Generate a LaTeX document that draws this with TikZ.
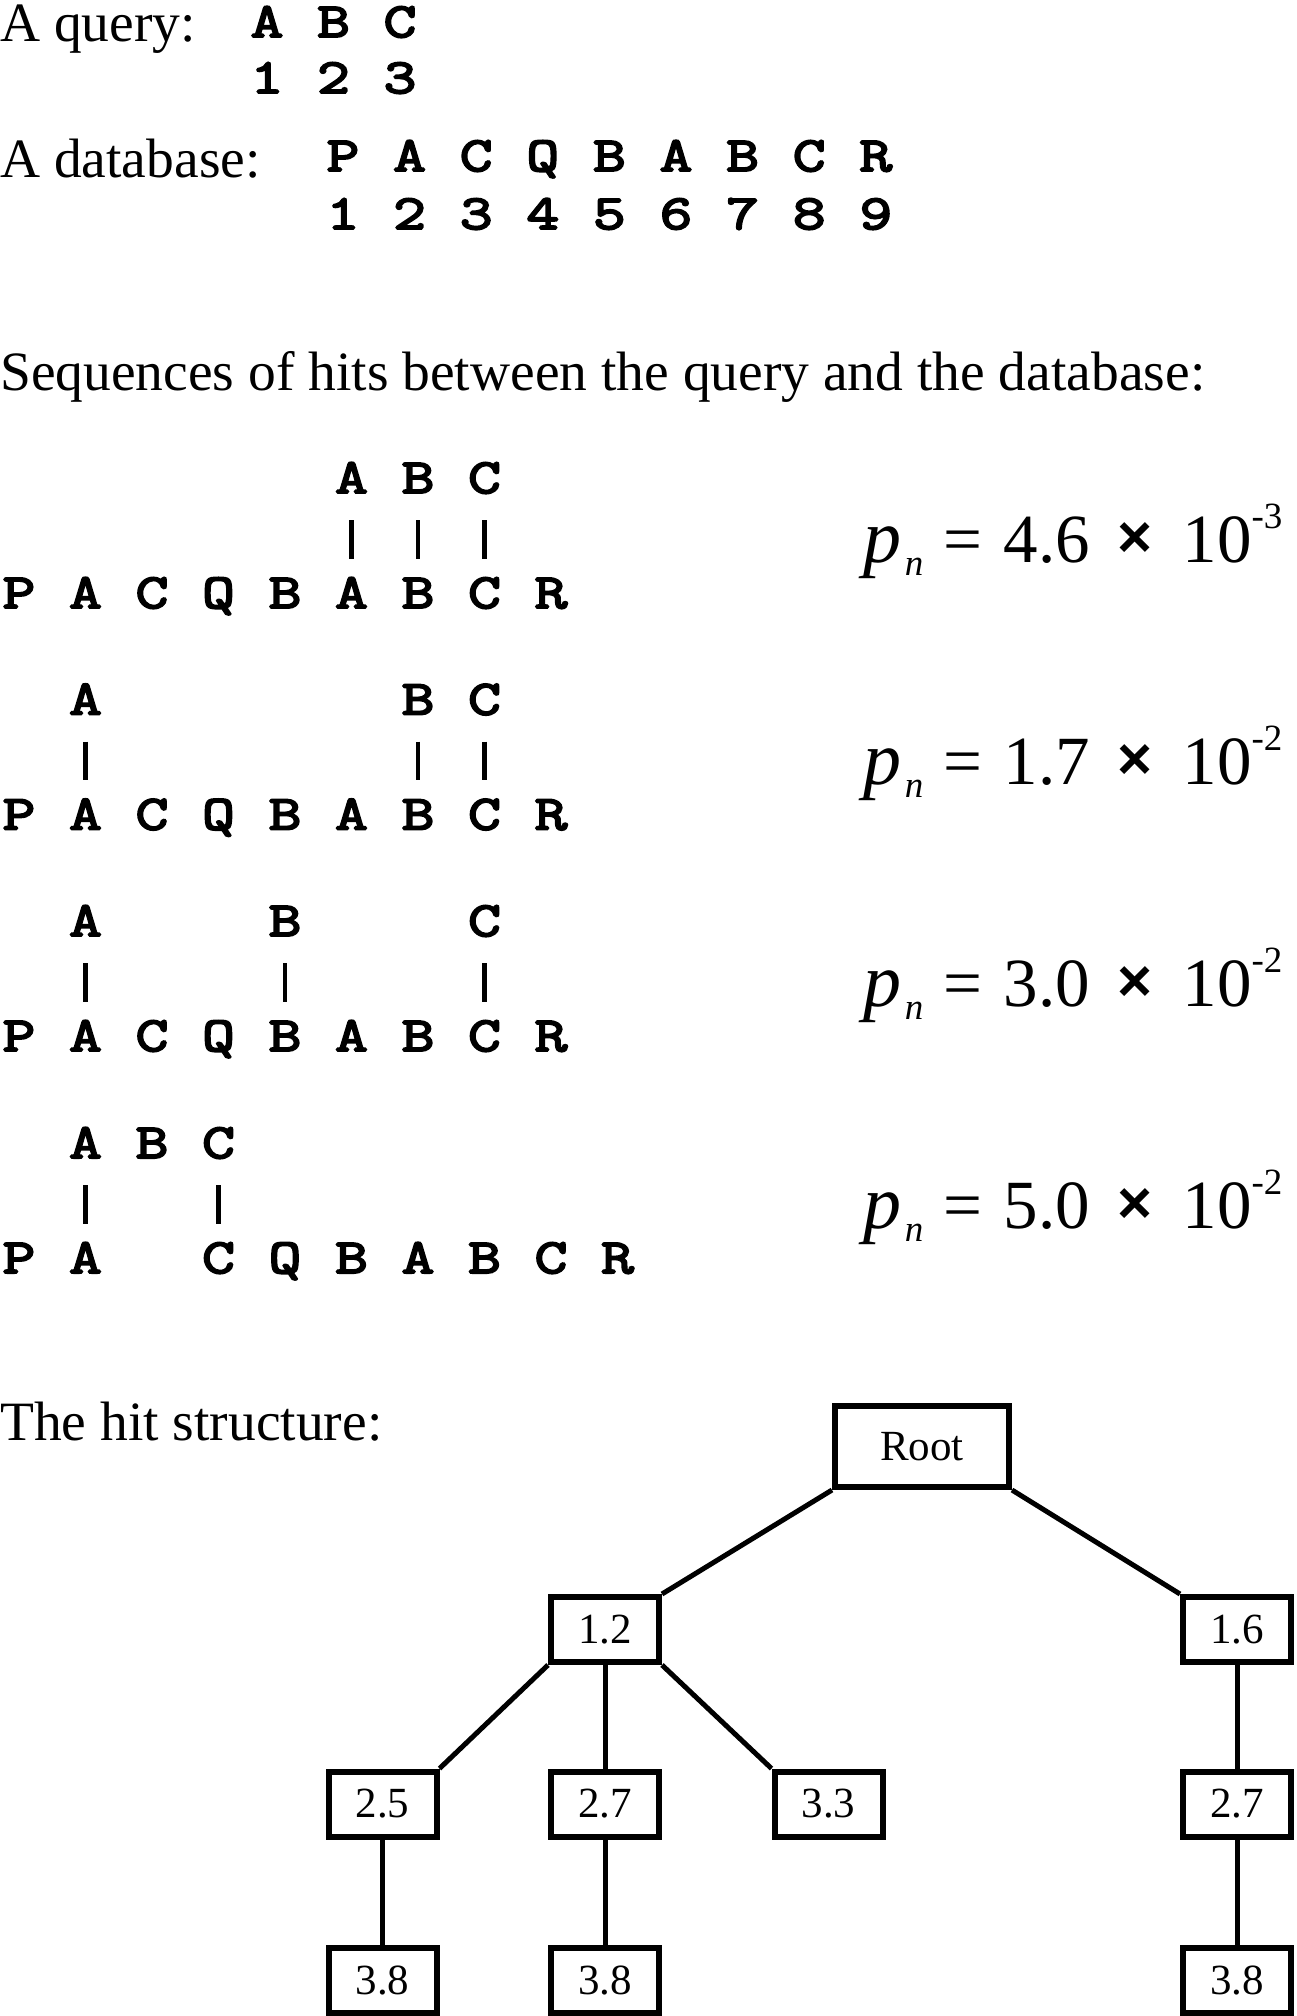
\documentclass[tikz,border=0pt]{standalone}
\usepackage{fontspec}
\setmainfont{Liberation Serif}
\newfontfamily\seqfont[FakeBold=4,FakeStretch=1.3]{Latin Modern Mono}
\newfontfamily\crossfont{Liberation Sans}
\tikzset{
  hdr/.style={anchor=base west, inner sep=0pt, font=\fontsize{55.5}{60}\selectfont},
  seq/.style={anchor=base, inner sep=0pt, text height=29pt, text depth=0pt, font=\seqfont\fontsize{49}{52}\selectfont},
  hitbar/.style={line width=4.5pt, shorten <=27pt, shorten >=20pt},
  pnbig/.style={anchor=base, inner sep=0pt, font=\fontsize{69}{75}\selectfont},
  pnp/.style={anchor=base, inner sep=0pt, font=\fontsize{76}{80}\selectfont},
  pnsmall/.style={anchor=base, inner sep=0pt, font=\fontsize{37}{40}\selectfont},
  pncross/.style={anchor=center, inner sep=0pt, font=\crossfont\bfseries\fontsize{60}{62}\selectfont},
  treebox/.style={draw, line width=6pt, inner sep=0pt, font=\fontsize{43}{46}\selectfont, minimum width=108pt, minimum height=65pt},
  link/.style={line width=5pt}
}
\newcommand\pnlabel[4]{%
  \node[pnp] (#1p) at (882,#2) {\itshape p};
  \node[pnsmall] (#1n) at (914,#2+13) {\itshape n};
  \node[pnbig] (#1eq) at (963,#2) {=};
  \node[pnbig] (#1m) at (1047,#2) {#3};
  \node[pncross] (#1x) at (1135,#2-22) {×};
  \node[pnbig] (#1t) at (1217,#2) {10};
  \node[pnsmall] (#1e) at (1267,#2-34) {-#4};
}
\begin{document}
\begin{tikzpicture}[x=1pt,y=-1pt]
\useasboundingbox (0,0) rectangle (1296,2016);
% headers
\node[hdr] (hq) at (0,41) {A query:};
\node[hdr] (hd) at (0,177) {A database:};
\node[hdr] (hs) at (0,390) {Sequences of hits between the query and the database:};
\node[hdr] (hh) at (0,1440) {The hit structure:};
% query
\foreach \ch/\k in {A/0,B/1,C/2}{
  \node[seq] (q\ch) at ({267+66.5*\k},37) {\ch};
  \pgfmathtruncatemacro\dd{\k+1}
  \node[seq] (qn\k) at ({267+66.5*\k},93) {\dd};
}
% database
\foreach \ch [count=\i from 0] in {P,A,C,Q,B,A,B,C,R}{
  \node[seq] (db\i) at ({343+66.6*\i},171) {\ch};
  \pgfmathtruncatemacro\dd{\i+1}
  \node[seq] (dn\i) at ({343+66.6*\i},229) {\dd};
}
% sequence rows 1-3
\foreach \r/\yb in {1/608,2/829.5,3/1051}{
  \foreach \ch [count=\i from 0] in {P,A,C,Q,B,A,B,C,R}{
    \node[seq] (r\r b\i) at ({19+66.5*\i},\yb) {\ch};
  }
}
% row 4
\foreach \ch/\k in {P/0,A/1,C/3,Q/4,B/5,A/6,B/7,C/8,R/9}{
  \node[seq] (r4b\k) at ({19+66.5*\k},1273) {\ch};
}
% top letters
\foreach \r/\yt/\ka/\kb/\kc in {1/493/5/6/7,2/714.5/1/6/7,3/936/1/4/7,4/1158/1/2/3}{
  \node[seq] (r\r tA) at ({19+66.5*\ka},\yt) {A};
  \node[seq] (r\r tB) at ({19+66.5*\kb},\yt) {B};
  \node[seq] (r\r tC) at ({19+66.5*\kc},\yt) {C};
}
% hit bars
\draw[hitbar] (r1tA.south) -- (r1b5.north);
\draw[hitbar] (r1tB.south) -- (r1b6.north);
\draw[hitbar] (r1tC.south) -- (r1b7.north);
\draw[hitbar] (r2tA.south) -- (r2b1.north);
\draw[hitbar] (r2tB.south) -- (r2b6.north);
\draw[hitbar] (r2tC.south) -- (r2b7.north);
\draw[hitbar] (r3tA.south) -- (r3b1.north);
\draw[hitbar] (r3tB.south) -- (r3b4.north);
\draw[hitbar] (r3tC.south) -- (r3b7.north);
\draw[hitbar] (r4tA.south) -- (r4b1.north);
\draw[hitbar] (r4tC.south) -- (r4b3.north);
% p_n labels
\pnlabel{pa}{562}{4.6}{3}
\pnlabel{pb}{784}{1.7}{2}
\pnlabel{pc}{1006}{3.0}{2}
\pnlabel{pd}{1228}{5.0}{2}
% tree
\node[treebox, minimum width=174pt, minimum height=81pt] (root) at (922,1446.5) {Root};
\node[treebox] (n12) at (605,1629.5) {1.2};
\node[treebox] (n16) at (1237,1629.5) {1.6};
\node[treebox] (n25) at (382.5,1804) {2.5};
\node[treebox] (n27) at (605,1804) {2.7};
\node[treebox] (n33) at (828.5,1804) {3.3};
\node[treebox] (n27r) at (1237,1804) {2.7};
\node[treebox] (n38a) at (382.5,1980) {3.8};
\node[treebox] (n38b) at (605,1980) {3.8};
\node[treebox] (n38c) at (1237,1980) {3.8};
\draw[link] (root.south west) -- (n12.north east);
\draw[link] (root.south east) -- (n16.north west);
\draw[link] (n12.south west) -- (n25.north east);
\draw[link] (n12.south) -- (n27.north);
\draw[link] (n12.south east) -- (n33.north west);
\draw[link] (n16.south) -- (n27r.north);
\draw[link] (n25.south) -- (n38a.north);
\draw[link] (n27.south) -- (n38b.north);
\draw[link] (n27r.south) -- (n38c.north);
\end{tikzpicture}
\end{document}
